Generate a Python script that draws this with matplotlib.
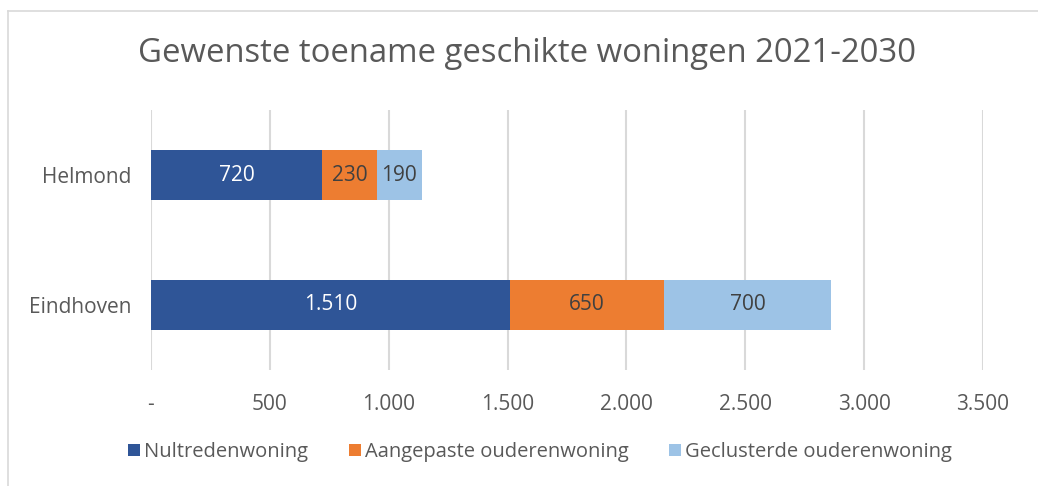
import matplotlib.pyplot as plt
from matplotlib.ticker import FuncFormatter
from matplotlib.lines import Line2D

cities = ["Eindhoven", "Helmond"]
nultreden = [1510, 720]
aangepast = [650, 230]
geclusterd = [700, 190]
series_names = ["Nultredenwoning", "Aangepaste ouderenwoning", "Geclusterde ouderenwoning"]
colors = ["#2F5597", "#ED7D31", "#9DC3E6"]
label_colors = ["white", "#404040", "#404040"]


def nl_fmt(v, pos=None):
    if v == 0:
        return "-"
    return "{:,.0f}".format(v).replace(",", ".")


plt.rcParams['font.family'] = ['Open Sans', 'DejaVu Sans']

fig = plt.figure(figsize=(10.38, 4.86), dpi=100)
ax = fig.add_axes([151 / 1038, 1 - 370 / 486, (983 - 151) / 1038, 260 / 486])

y = list(range(len(cities)))
left = [0] * len(cities)
for vals, name, col, lc in zip([nultreden, aangepast, geclusterd], series_names, colors, label_colors):
    bars = ax.barh(y, vals, left=left, height=0.385, color=col, label=name, zorder=3)
    for b, v in zip(bars, vals):
        ax.text(b.get_x() + b.get_width() / 2, b.get_y() + b.get_height() / 2, nl_fmt(v),
                ha="center", va="center", color=lc, fontsize=15, zorder=4)
    left = [a + b for a, b in zip(left, vals)]

ax.set_xlim(0, 3500)
ax.set_ylim(-0.5, 1.5)
ax.set_xticks(range(0, 3501, 500))
ax.xaxis.set_major_formatter(FuncFormatter(nl_fmt))
ax.set_yticks(y)
ax.set_yticklabels(cities)
ax.tick_params(axis="both", length=0, labelsize=15, labelcolor="#595959")
ax.tick_params(axis="x", pad=17)
ax.tick_params(axis="y", pad=14)
ax.grid(axis="x", color="#D9D9D9", linewidth=1.5, zorder=0)
for s in ax.spines.values():
    s.set_visible(False)

fig.text(527 / 1038, 1 - 53 / 486, "Gewenste toename geschikte woningen 2021-2030",
         ha="center", va="center", fontsize=23.7, color="#595959")

fig.legend(loc="center", bbox_to_anchor=(540 / 1038, 1 - 452 / 486), ncol=3, frameon=False,
           fontsize=14.5, labelcolor="#595959", handlelength=0.6, handleheight=0.6,
           handletextpad=0.2, columnspacing=2.0)

# chart frame (cropped at right and bottom)
fig.add_artist(Line2D([8 / 1038, 8 / 1038], [0, 1 - 11 / 486], color="#D9D9D9", linewidth=1.2))
fig.add_artist(Line2D([8 / 1038, 1], [1 - 11 / 486, 1 - 11 / 486], color="#D9D9D9", linewidth=1.2))

fig.savefig("out.png", dpi=100)
